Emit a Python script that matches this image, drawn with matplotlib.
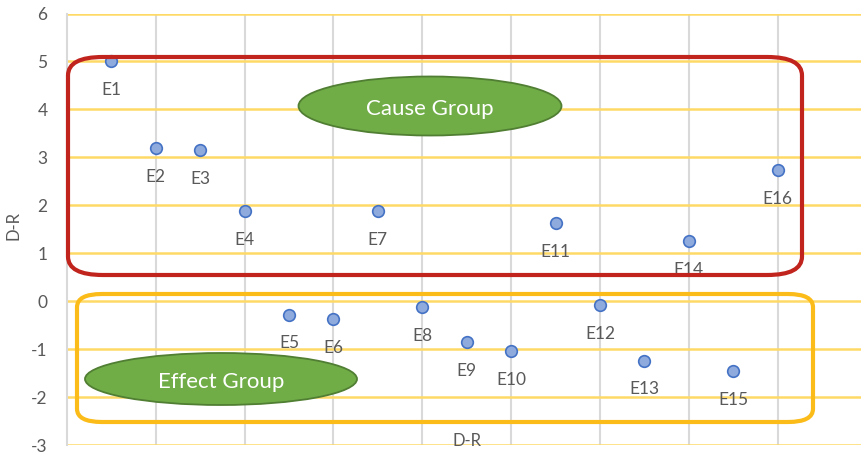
import numpy as np
import matplotlib
matplotlib.use('Agg')
import matplotlib.pyplot as plt
from matplotlib.patches import FancyBboxPatch, Ellipse

# data
labels = ['E1', 'E2', 'E3', 'E4', 'E5', 'E6', 'E7', 'E8',
          'E9', 'E10', 'E11', 'E12', 'E13', 'E14', 'E15', 'E16']
x_vals = list(range(1, 17))
d_minus_r = [5.0, 3.2, 3.15, 1.88, -0.28, -0.38, 1.88, -0.13,
             -0.85, -1.04, 1.62, -0.09, -1.24, 1.25, -1.45, 2.73]
y_ticks = [-3, -2, -1, 0, 1, 2, 3, 4, 5, 6]
x_grid = [2, 4, 6, 8, 10, 12, 14, 16]

plt.rcParams['font.family'] = ['Lato', 'DejaVu Sans']
plt.rcParams['axes.unicode_minus'] = False
W, H = 862, 454
fig = plt.figure(figsize=(W / 100, H / 100), dpi=100)
ax = fig.add_axes([67 / W, 1 - 445 / H, 1 - 67 / W, (445 - 13.5) / H])

ax.set_xlim(0, 17.9)
ax.set_ylim(-3, 6)
ax.set_yticks(y_ticks)
ax.set_xticks([])
for v in y_ticks:
    ax.axhline(v, color='#FFD966', lw=1.8, zorder=1)
for v in x_grid:
    ax.axvline(v, color='#D9D9D9', lw=1.5, zorder=0.5)
for s in ['top', 'right', 'bottom']:
    ax.spines[s].set_visible(False)
ax.spines['left'].set_color('#D9D9D9')
ax.spines['left'].set_linewidth(1.5)
ax.tick_params(axis='y', length=0, labelsize=12.5, labelcolor='#595959', pad=14)

ax.scatter(x_vals, d_minus_r, s=70, color='#8FAADC', edgecolor='#4472C4',
           linewidth=1.2, zorder=3)
for xv, yv, lab in zip(x_vals, d_minus_r, labels):
    ax.annotate(lab, (xv, yv), xytext=(0, -15), textcoords='offset points',
                ha='center', va='top', fontsize=12.5, color='#595959', zorder=3)

fig.text(13 / W, 1 - 226 / H, 'D-R', rotation=90, ha='center', va='center',
         fontsize=12, color='#595959')
fig.text(467 / W, 1 - 441 / H, 'D-R', ha='center', va='center',
         fontsize=12, color='#595959')


def px_box(x0, y0, x1, y1, color, r):
    return FancyBboxPatch((x0 / W, 1 - y1 / H), (x1 - x0) / W, (y1 - y0) / H,
                          boxstyle='round,pad=0,rounding_size=%f' % (r / W),
                          transform=fig.transFigure, fill=False,
                          edgecolor=color, lw=3, zorder=5)


fig.patches.append(px_box(68, 57, 802, 275, '#C0241C', 35))
fig.patches.append(px_box(77, 294, 813, 422, '#FBBC1A', 25))

for cx, cy, w, h, txt in [(430, 106, 263, 59, 'Cause Group'),
                          (221, 379, 272, 52, 'Effect Group')]:
    e = Ellipse((cx / W, 1 - cy / H), w / W, h / H, transform=fig.transFigure,
                facecolor='#70AD47', edgecolor='#507E32', lw=1.3, zorder=6)
    fig.patches.append(e)
    fig.text(cx / W, 1 - (cy + 3) / H, txt, ha='center', va='center',
             fontsize=16, color='white', zorder=7)

fig.savefig('out.png', dpi=100)
